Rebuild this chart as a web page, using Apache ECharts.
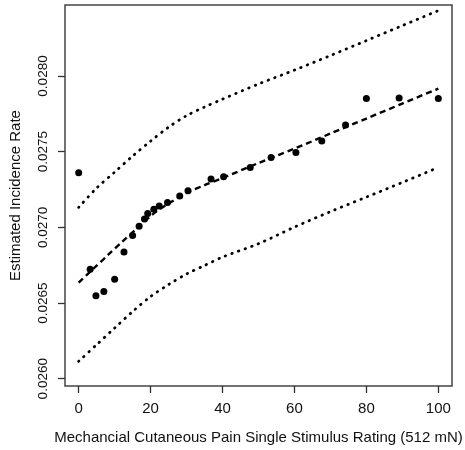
<!DOCTYPE html>
<html><head><meta charset="utf-8">
<script src="https://cdn.jsdelivr.net/npm/echarts@6/dist/echarts.min.js"></script>
<style>html,body{margin:0;padding:0;background:#fff}#c{width:465px;height:450px}</style>
</head><body><div id="c"></div>
<script>
var pointX = [0, 3.2, 4.8, 7.0, 10.0, 12.6, 15.0, 16.8, 18.3, 19.2, 20.9, 22.4, 24.7, 28.1, 30.4, 36.8, 40.3, 47.7, 53.5, 60.4, 67.6, 74.2, 80.0, 89.1, 100.0];
var pointY = [0.02736, 0.026723, 0.026548, 0.026577, 0.026657, 0.026837, 0.026947, 0.027007, 0.027055, 0.027092, 0.027119, 0.027141, 0.027165, 0.027207, 0.027242, 0.027319, 0.027334, 0.027396, 0.027462, 0.027495, 0.02757, 0.027676, 0.027852, 0.027854, 0.027852];
var fitX = [0, 4, 8, 12, 16, 18, 20, 22, 25, 30, 35, 40, 50, 60, 70, 80, 90, 100];
var fitY = [0.026635, 0.026725, 0.026814, 0.026903, 0.026989, 0.027032, 0.027075, 0.027111, 0.027157, 0.027227, 0.027279, 0.027326, 0.027425, 0.02752, 0.02762, 0.027719, 0.027818, 0.027917];
var bandX = [0, 5, 10, 15, 20, 25, 30, 35, 40, 50, 60, 70, 80, 90, 100];
var upperY = [0.027132, 0.02726, 0.027365, 0.027471, 0.02757, 0.027662, 0.027738, 0.027795, 0.027847, 0.027947, 0.028039, 0.028135, 0.028234, 0.028333, 0.028432];
var lowerY = [0.026115, 0.026225, 0.026335, 0.026444, 0.026543, 0.026622, 0.026692, 0.026748, 0.026804, 0.026892, 0.027002, 0.027104, 0.0272, 0.027297, 0.027396];
var xTicks = [0, 20, 40, 60, 80, 100];
var yTicks = [0.026, 0.0265, 0.027, 0.0275, 0.028];
var xTitle = 'Mechancial Cutaneous Pain Single Stimulus Rating (512 mN)';
var yTitle = 'Estimated Incidence Rate';

function zip(a, b) { return a.map(function (v, i) { return [v, b[i]]; }); }

var chart = echarts.init(document.getElementById('c'), null, { renderer: 'canvas' });
var font = 'Liberation Sans, Arial, sans-serif';
chart.setOption({
  animation: false,
  grid: { left: 63, right: 13, top: 5, bottom: 64, show: true, borderColor: '#444', borderWidth: 1.5, backgroundColor: 'transparent' },
  xAxis: {
    type: 'value', min: -3.8, max: 103.8,
    name: xTitle, nameLocation: 'middle', nameGap: 44,
    nameTextStyle: { fontFamily: font, fontSize: 15, color: '#111' },
    axisLine: { show: false, onZero: false },
    splitLine: { show: false },
    axisTick: { show: true, length: 7, customValues: xTicks, lineStyle: { color: '#333', width: 1.3 } },
    axisLabel: { customValues: xTicks, margin: 15, fontFamily: font, fontSize: 15, color: '#111' }
  },
  yAxis: {
    type: 'value', min: 0.025952, max: 0.028469,
    name: yTitle, nameLocation: 'middle', nameGap: 42,
    nameTextStyle: { fontFamily: font, fontSize: 15, color: '#111' },
    axisLine: { show: false, onZero: false },
    splitLine: { show: false },
    axisTick: { show: true, length: 7, customValues: yTicks, lineStyle: { color: '#333', width: 1.3 } },
    axisLabel: { customValues: yTicks, rotate: 90, margin: 15, fontFamily: font, fontSize: 13.5, color: '#111',
      formatter: function (v) { return v.toFixed(4); } }
  },
  series: [
    { type: 'line', data: zip(bandX, upperY), symbol: 'none', smooth: 0.3,
      lineStyle: { color: '#000', width: 2.8, type: [0.5, 6.5], cap: 'round' } },
    { type: 'line', data: zip(bandX, lowerY), symbol: 'none', smooth: 0.3,
      lineStyle: { color: '#000', width: 2.8, type: [0.5, 6.5], cap: 'round' } },
    { type: 'line', data: zip(fitX, fitY), symbol: 'none', smooth: 0.3,
      lineStyle: { color: '#000', width: 2.4, type: [6, 4], cap: 'butt' } },
    { type: 'scatter', data: zip(pointX, pointY), symbol: 'circle', symbolSize: 7,
      itemStyle: { color: '#000', opacity: 1 } }
  ]
});
</script></body></html>
